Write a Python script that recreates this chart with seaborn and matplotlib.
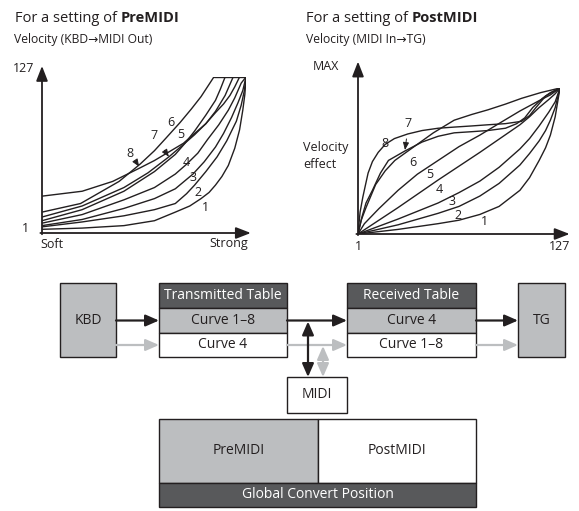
import pandas as pd
import matplotlib
matplotlib.use("Agg")
import matplotlib.pyplot as plt
import matplotlib.patches as mpatches
import seaborn as sns

# Curve data (x, y in velocity units 0..127)
pre_x1 = [0, 25, 51, 70, 83, 92, 99, 104, 108, 112, 116, 120, 123, 125, 126.3, 127]
pre_y1 = [3, 4, 6, 10, 17, 22, 28, 33, 39, 46, 55, 69, 84, 100, 113, 127]
pre_x2 = [0, 25, 51, 70, 83, 90, 95, 102, 109, 115, 121, 124, 126, 127]
pre_y2 = [5, 9, 14, 19, 24, 32, 39, 50, 62, 75, 91, 104, 116, 127]
pre_x3 = [0, 25, 51, 70, 83, 94, 101, 108, 113, 118, 122, 125, 127]
pre_y3 = [6, 11, 20, 28, 36, 48, 58, 70, 81, 94, 106, 116, 127]
pre_x4 = [0, 25, 51, 70, 83, 90, 97, 103, 110, 116, 120, 124, 127]
pre_y4 = [8, 15, 27, 37, 48, 56, 65, 76, 88, 100, 110, 122, 127]
pre_x5 = [0, 25, 51, 70, 83, 89, 95, 102, 108, 111, 114, 127]
pre_y5 = [10, 19, 34, 50, 64, 73, 83, 96, 108, 117, 127, 127]
pre_x6 = [0, 24, 48, 61, 70, 77, 86, 93, 99, 103, 107, 127]
pre_y6 = [17, 24, 42, 56, 67, 77, 90, 101, 111, 119, 127, 127]
pre_x7 = [0, 25, 51, 66, 79, 88, 95, 102, 108, 114, 119, 127]
pre_y7 = [13, 22, 37, 49, 62, 72, 80, 89, 99, 112, 127, 127]
pre_x8 = [0, 25, 44, 61, 70, 79, 88, 95, 102, 108, 113, 117, 120, 123, 127]
pre_y8 = [30, 34, 42, 53, 59, 66, 73, 81, 89, 98, 105, 112, 119, 127, 127]

post_x1 = [1, 26, 51, 64, 77, 89, 102, 108, 114, 118, 121, 124, 127]
post_y1 = [0, 4, 9, 12, 17, 24, 38, 49, 64, 75, 86, 102, 127]
post_x2 = [1, 26, 51, 64, 77, 89, 102, 108, 114, 118, 121, 124, 127]
post_y2 = [0, 8, 18, 24, 33, 44, 60, 70, 81, 90, 99, 110, 127]
post_x3 = [1, 26, 51, 64, 77, 89, 102, 108, 114, 120, 124, 127]
post_y3 = [0, 13, 27, 36, 46, 58, 74, 83, 94, 106, 115, 127]
post_x4 = [1, 26, 51, 77, 102, 108, 114, 120, 124, 127]
post_y4 = [0, 23, 47, 71, 95, 102, 110, 117, 122, 127]
post_x5 = [1, 5, 14, 26, 38, 51, 64, 77, 90, 102, 114, 121, 127]
post_y5 = [0, 9, 22, 38, 52, 64, 76, 86, 97, 107, 116, 121, 127]
post_x6 = [1, 3, 6, 12, 18, 24, 35, 48, 61, 72, 82, 93, 103, 115, 127]
post_y6 = [0, 12, 23, 43, 55, 64, 75, 88, 99, 104, 108, 113, 118, 123, 127]
post_x7 = [1, 3.5, 6, 10, 15, 20, 30, 41, 51, 61, 72, 82, 93, 100, 105, 110, 116, 121, 127]
post_y7 = [0, 15, 27, 38, 53, 64, 72, 80, 85, 88, 89, 90, 92, 96, 101, 110, 118, 123, 127]
post_x8 = [1, 2.3, 4, 5.4, 7.3, 10, 13.6, 18, 23.7, 32, 41, 51, 61, 72, 82, 93, 103, 108,
           112, 118, 123, 127]
post_y8 = [0, 19, 32, 41, 53, 63, 71, 78, 83, 87, 90, 92, 93, 94, 95, 96, 98, 103, 110, 120,
           124, 127]

pre_curves = [(pre_x1, pre_y1), (pre_x2, pre_y2), (pre_x3, pre_y3), (pre_x4, pre_y4),
              (pre_x5, pre_y5), (pre_x6, pre_y6), (pre_x7, pre_y7), (pre_x8, pre_y8)]
post_curves = [(post_x1, post_y1), (post_x2, post_y2), (post_x3, post_y3), (post_x4, post_y4),
               (post_x5, post_y5), (post_x6, post_y6), (post_x7, post_y7), (post_x8, post_y8)]

BLACK = "#231f20"
GRAY = "#bcbec0"
DARK = "#58595b"


def to_frame(curves):
    rows = []
    for i, (xs, ys) in enumerate(curves, start=1):
        for x, y in zip(xs, ys):
            rows.append({"curve": i, "x": x, "y": y})
    return pd.DataFrame(rows)


sns.set_style("white")
plt.rcParams["font.family"] = ["Open Sans", "DejaVu Sans"]

W, H = 579, 511
fig = plt.figure(figsize=(W / 100, H / 100), dpi=100)

# background axes in pixel units for text and the block diagram
ax = fig.add_axes([0, 0, 1, 1])
ax.set_xlim(0, W)
ax.set_ylim(H, 0)
ax.axis("off")


def curve_axes(left, bottom_px, width, height):
    a = fig.add_axes([left / W, (H - bottom_px) / H, width / W, height / H])
    a.axis("off")
    return a


axL = curve_axes(42, 233, 204, 156)
axL.set_xlim(0, 127)
axL.set_ylim(0, 127)
axR = curve_axes(358, 234, 202, 146)
axR.set_xlim(1, 127)
axR.set_ylim(0, 127)

for a, curves in [(axL, pre_curves), (axR, post_curves)]:
    sns.lineplot(data=to_frame(curves), x="x", y="y", units="curve", estimator=None,
                 sort=False, color=BLACK, lw=1.0, ax=a, legend=False)
    a.set_xlabel("")
    a.set_ylabel("")
    a.axis("off")

# plateau line of PreMIDI chart
axL.plot([pre_x6[-2], 127], [127, 127], color=BLACK, lw=1.0)

axis_arrow = dict(arrowstyle="-|>,head_length=0.9,head_width=0.35", color=BLACK, lw=1.3,
                  shrinkA=0, shrinkB=0)
axL.annotate("", xy=(0, 136), xytext=(0, -1), arrowprops=axis_arrow, annotation_clip=False)
axL.annotate("", xy=(130, 0), xytext=(-1, 0), arrowprops=axis_arrow, annotation_clip=False)
axR.annotate("", xy=(1, 150), xytext=(1, -1), arrowprops=axis_arrow, annotation_clip=False)
axR.annotate("", xy=(133, 0), xytext=(0, 0), arrowprops=axis_arrow, annotation_clip=False)

# curve numbers
num_fs = 9
pre_labels = {1: (102, 21), 2: (97, 33), 3: (94, 45), 4: (90, 57), 5: (86.5, 80), 6: (80, 90)}
for k, (x, y) in pre_labels.items():
    axL.text(x, y, str(k), fontsize=num_fs, ha="center", va="center", color=BLACK)
small_arrow = dict(arrowstyle="-|>,head_length=0.5,head_width=0.2", color=BLACK, lw=0.7,
                   shrinkA=4, shrinkB=0)
axL.annotate("7", xy=(79, 62), xytext=(70, 79), fontsize=num_fs, ha="center", va="center",
             arrowprops=small_arrow)
axL.annotate("8", xy=(60.5, 54), xytext=(55, 65), fontsize=num_fs, ha="center", va="center",
             arrowprops=small_arrow)

post_labels = {1: (80, 11), 2: (63.5, 16.5), 3: (59.5, 28), 4: (52, 38.5), 5: (46, 51.5),
               6: (35, 62.5), 8: (18, 79)}
for k, (x, y) in post_labels.items():
    axR.text(x, y, str(k), fontsize=num_fs, ha="center", va="center", color=BLACK)
axR.annotate("7", xy=(30.3, 73), xytext=(32.5, 96), fontsize=num_fs, ha="center", va="center",
             arrowprops=small_arrow)

# titles
renderer = fig.canvas.get_renderer()


def title(x, y, plain, bold):
    t = ax.text(x, y, plain, fontsize=10.5, ha="left", va="center", color=BLACK)
    bb = t.get_window_extent(renderer).transformed(ax.transData.inverted())
    ax.text(bb.x1 + 3.5, y, bold, fontsize=10.5, fontweight="bold", ha="left", va="center",
            color=BLACK)


title(15, 18, "For a setting of", "PreMIDI")
ax.text(14, 39, "Velocity (KBD\u2192MIDI Out)", fontsize=8.7, ha="left", va="center", color=BLACK)
title(306, 18, "For a setting of", "PostMIDI")
ax.text(306, 39, "Velocity (MIDI In\u2192TG)", fontsize=8.7, ha="left", va="center", color=BLACK)

lab = dict(fontsize=9, color=BLACK, va="center")
ax.text(34, 68, "127", ha="right", **lab)
ax.text(29, 229, "1", ha="right", **lab)
ax.text(40, 244, "Soft", ha="left", **lab)
ax.text(248, 244, "Strong", ha="right", **lab)
ax.text(339, 66, "MAX", ha="right", **lab)
ax.text(303, 156, "Velocity\neffect", ha="left", linespacing=1.3, **lab)
ax.text(358, 247, "1", ha="center", **lab)
ax.text(560, 247, "127", ha="center", **lab)


# block diagram
def box(x0, y0, x1, y1, fc, text="", tc=BLACK, fs=10):
    ax.add_patch(mpatches.Rectangle((x0, y0), x1 - x0, y1 - y0, facecolor=fc,
                                    edgecolor=BLACK, lw=1.0))
    if text:
        ax.text((x0 + x1) / 2, (y0 + y1) / 2, text, ha="center", va="center",
                fontsize=fs, color=tc)


top, r1, r2, bot = 283, 308, 333, 357
box(60, top, 116, bot, GRAY, "KBD")
box(159, top, 287, r1, DARK, "Transmitted Table", "white")
box(159, r1, 287, r2, GRAY, "Curve 1\u20138")
box(159, r2, 287, bot, "white", "Curve 4")
box(347, top, 476, r1, DARK, "Received Table", "white")
box(347, r1, 476, r2, GRAY, "Curve 4")
box(347, r2, 476, bot, "white", "Curve 1\u20138")
box(518, top, 565, bot, GRAY, "TG")
box(287, 377, 347, 413, "white", "MIDI")

box(159, 419, 318, 483, GRAY, "PreMIDI")
box(318, 419, 476, 483, "white", "PostMIDI")
box(159, 483, 476, 507, DARK, "Global Convert Position", "white")

yb = (r1 + r2) / 2
yg = (r2 + bot) / 2
blk = dict(arrowstyle="-|>,head_length=0.8,head_width=0.35", color=BLACK, lw=1.6,
           shrinkA=0, shrinkB=0)
gry = dict(arrowstyle="-|>,head_length=0.8,head_width=0.35", color=GRAY, lw=1.6,
           shrinkA=0, shrinkB=0)
for x0, x1 in [(116, 159), (287, 347), (476, 518)]:
    ax.annotate("", xy=(x1, yb), xytext=(x0, yb), arrowprops=blk)
    ax.annotate("", xy=(x1, yg), xytext=(x0, yg), arrowprops=gry)

blk2 = dict(blk, arrowstyle="<|-|>,head_length=0.8,head_width=0.35")
gry2 = dict(gry, arrowstyle="<|-|>,head_length=0.8,head_width=0.35")
ax.annotate("", xy=(308, yb + 1), xytext=(308, 377), arrowprops=blk2)
ax.annotate("", xy=(323, yg + 1), xytext=(323, 377), arrowprops=gry2)

fig.savefig("out.png", dpi=100)
